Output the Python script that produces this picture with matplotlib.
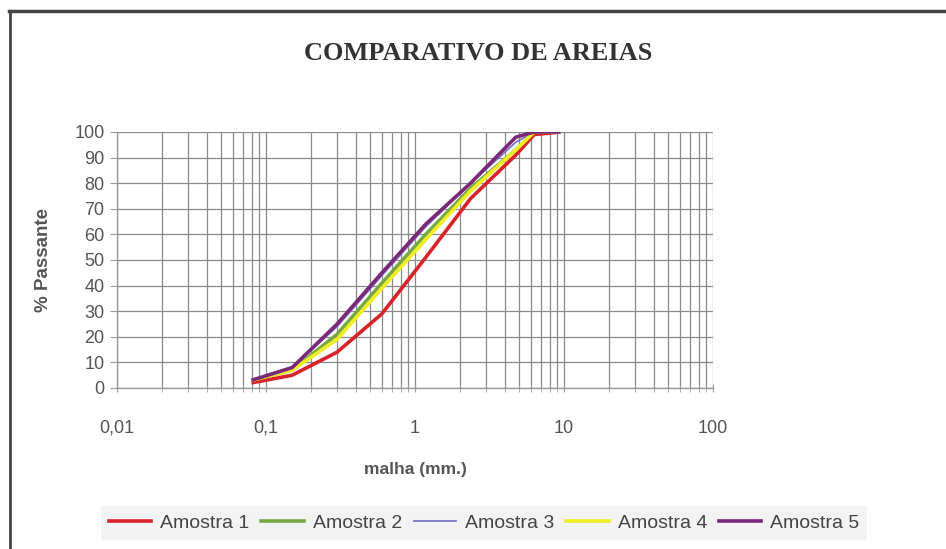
import matplotlib.pyplot as plt
from matplotlib.ticker import NullFormatter, LogLocator
from matplotlib.lines import Line2D

plt.rcParams['font.family'] = 'Liberation Sans'

# Data (sieve opening in mm vs % passing)
malha = [0.08, 0.15, 0.3, 0.6, 1.18, 2.36, 4.75, 6.3, 9.5]
amostra1 = [2, 5, 14, 29, 51, 74, 91, 99, 100]
amostra2 = [3, 7, 21, 41, 60, 78, 93, 100, 100]
amostra3 = [3, 8, 24, 44, 63, 80, 96, 100, 100]
amostra4 = [3, 7, 19, 39, 58, 77, 93, 100, 100]
amostra5 = [3, 8, 25, 45, 64, 80, 98, 100, 100]

series = [amostra1, amostra2, amostra3, amostra4, amostra5]
labels = ['Amostra 1', 'Amostra 2', 'Amostra 3', 'Amostra 4', 'Amostra 5']
colors = ['#d8232a', '#79a843', '#7b78c4', '#eeee22', '#7a2878']
widths = [2.6, 2.6, 1.3, 2.6, 2.6]

fig = plt.figure(figsize=(9.46, 5.49), dpi=100)
ax = fig.add_axes([117 / 946, 1 - 388 / 549, (713 - 117) / 946, (388 - 132) / 549])

for vals, lab, c, lw in zip(series, labels, colors, widths):
    ax.plot(malha, vals, color=c, lw=lw, label=lab, solid_capstyle='butt')

ax.set_xscale('log')
ax.set_xlim(0.01, 100)
ax.set_ylim(0, 100)
ax.set_xticks([0.01, 0.1, 1, 10, 100])
ax.set_xticklabels(['0,01', '0,1', '1', '10', '100'])
ax.xaxis.set_minor_locator(LogLocator(base=10, subs=range(2, 10)))
ax.xaxis.set_minor_formatter(NullFormatter())
ax.set_yticks(range(0, 101, 10))

ax.grid(True, which='major', color='#8a8a8a', lw=0.9)
ax.grid(True, which='minor', axis='x', color='#8a8a8a', lw=0.9)
ax.set_axisbelow(True)

for s in ['top', 'right']:
    ax.spines[s].set_visible(False)
for s in ['left', 'bottom']:
    ax.spines[s].set_color('#9a9a9a')
    ax.spines[s].set_linewidth(1.0)

ax.tick_params(axis='y', which='major', length=5, color='#9a9a9a', labelsize=13,
               labelcolor='#555555', pad=4)
ax.tick_params(axis='x', which='both', direction='inout', length=6, color='#9a9a9a')
ax.tick_params(axis='x', which='major', labelsize=13, labelcolor='#555555', pad=20)

ax.set_ylabel('% Passante', fontsize=13.5, fontweight='bold', color='#555555', labelpad=16)
ax.set_xlabel('malha (mm.)', fontsize=12.5, fontweight='bold', color='#555555', labelpad=18)

fig.text(478 / 946, 1 - 54 / 549, 'COMPARATIVO DE AREIAS', ha='center', va='center',
         fontsize=19, fontweight='bold', family='Liberation Serif', color='#333333')

# legend
handles = [Line2D([0], [0], color=c, lw=lw if lw > 2 else 1.3) for c, lw in zip(colors, widths)]
leg = fig.legend(handles, labels, loc='center', bbox_to_anchor=(484 / 946, 1 - 523 / 549),
                 ncol=5, frameon=True, fontsize=14, handlelength=2.2, handletextpad=0.45,
                 columnspacing=0.6, borderpad=0.4, fancybox=False)
leg.get_frame().set_facecolor('#f1f1f1')
leg.get_frame().set_edgecolor('none')
for t in leg.get_texts():
    t.set_color('#444444')

# outer chart border
fig.add_artist(Line2D([9 / 946, 1.0], [1 - 11 / 549, 1 - 11 / 549], color='#444444', lw=2.5))
fig.add_artist(Line2D([10 / 946, 10 / 946], [0, 1 - 11 / 549], color='#444444', lw=2))

fig.savefig('out.png', dpi=100)
